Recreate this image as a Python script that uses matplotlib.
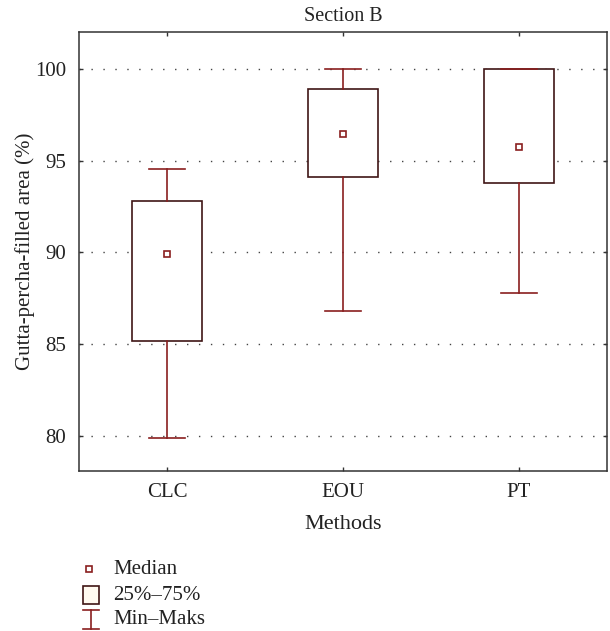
import matplotlib
matplotlib.use("Agg")
import matplotlib.pyplot as plt
from matplotlib.patches import Rectangle
from matplotlib.lines import Line2D

categories = ["CLC", "EOU", "PT"]
mins = [79.9, 86.8, 87.8]
q1s = [85.2, 94.08, 93.77]
medians = [89.9, 96.42, 95.75]
q3s = [92.8, 98.88, 100.0]
maxs = [94.55, 100.0, 100.0]
yticks = [80, 85, 90, 95, 100]

plt.rcParams['font.family'] = ['Liberation Serif', 'DejaVu Serif']

RED = '#8a1f1f'
EDGE = '#3f1515'
TXT = '#222222'

fig = plt.figure(figsize=(6.10, 6.31), dpi=100)
ax = fig.add_axes([0.1295, 0.2536, 0.8655, 0.6957])

positions = list(range(1, len(categories) + 1))
stats = [dict(med=m, q1=a, q3=b, whislo=lo, whishi=hi, fliers=[])
         for m, a, b, lo, hi in zip(medians, q1s, q3s, mins, maxs)]
ax.bxp(stats, positions=positions, widths=0.4, capwidths=0.2,
       patch_artist=True, showfliers=False,
       boxprops=dict(facecolor='white', edgecolor=EDGE, linewidth=1.2),
       whiskerprops=dict(color=RED, linewidth=1.2),
       capprops=dict(color=RED, linewidth=1.2),
       medianprops=dict(linestyle='none'), zorder=3)
ax.plot(positions, medians, 's', mfc='white', mec=RED, mew=1.2, ms=5, zorder=5)

ax.set_xlim(0.5, 3.5)
ax.set_ylim(78.1, 102.0)
ax.set_yticks(yticks)
ax.set_xticks(positions)
ax.set_xticklabels(categories)
for y in yticks:
    ax.axhline(y, color='#444444', lw=1.0, linestyle=(0, (1, 7.6)), zorder=1)

ax.tick_params(direction='in', length=3, width=1, top=True, right=True,
               labelsize=15, colors='#333333', labelcolor=TXT)
ax.tick_params(axis='y', pad=9)
ax.tick_params(axis='x', pad=9)
for s in ax.spines.values():
    s.set_color('#333333')
    s.set_linewidth(1.1)

ax.set_title("Section B", fontsize=14.5, color=TXT, pad=8)
ax.set_ylabel("Gutta-percha-filled area (%)", fontsize=15, color=TXT)
ax.yaxis.set_label_coords(-0.083, 0.5)
ax.set_xlabel("Methods", fontsize=16, color=TXT, labelpad=9)

# legend
lax = fig.add_axes([0, 0, 1, 1], facecolor='none')
lax.set_xlim(0, 610)
lax.set_ylim(631, 0)
lax.axis('off')
lax.plot([89], [569], 's', mfc='white', mec=RED, mew=1.2, ms=5)
lax.add_patch(Rectangle((83, 586), 16, 18, facecolor='#fffaf0', edgecolor=EDGE, lw=1.2))
lax.add_line(Line2D([83, 99], [610, 610], color=RED, lw=1.2))
lax.add_line(Line2D([91, 91], [610, 629], color=RED, lw=1.2))
lax.add_line(Line2D([83, 99], [629, 629], color=RED, lw=1.2))
for y, t in [(570, "Median"), (595, "25%–75%"), (619, "Min–Maks")]:
    lax.text(113, y, t, fontsize=15, color=TXT, va='center', ha='left')

fig.savefig("out.png", dpi=100)
